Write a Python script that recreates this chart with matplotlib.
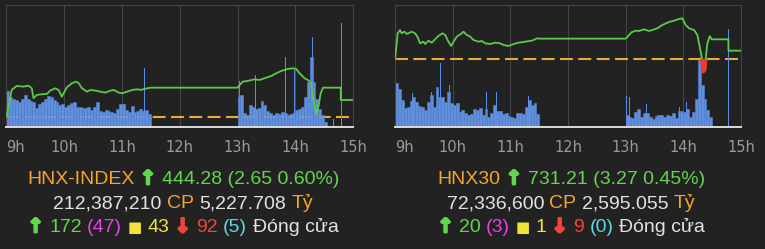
import matplotlib
matplotlib.use("Agg")
import matplotlib.pyplot as plt
import matplotlib.patheffects as pe
from matplotlib.patches import Rectangle
import numpy as np

BG = "#222222"
ORANGE = "#f5a431"
GREEN = "#62d64c"
WHITE = "#e2e2e2"
MAGENTA = "#e543e8"
YELLOW = "#f2e23a"
RED = "#f0453a"
CYAN = "#5ad8e6"

# minutes after 9:00
hnx_t = [0, 5.4, 10.6, 17.6, 22.8, 26.3, 28, 31.5, 36.7, 41.9, 45.4, 50.6, 54.1, 57.6, 59.3,
         62.8, 68, 72.5, 75, 78.4, 83.7, 87.1, 92.3, 97.6, 102.8, 108, 111.5, 116.7, 120.2,
         125.4, 130.6, 135.8, 139.3, 146.3, 150, 240, 245.4, 250.6, 257.6, 262.8, 268, 275,
         280.2, 285.4, 292.4, 297.6, 301, 304.5, 309.7, 313.2, 316.7, 318.4, 320.2, 321.9,
         324.4, 326.4, 328.9, 347.3, 347.3, 360]
hnx_p = [441.72, 445.81, 446.42, 446.32, 446.47, 446.07, 444.54, 445.05, 445.15, 445.20,
         445.71, 446.07, 445.81, 444.79, 445.30, 446.22, 446.84, 447.09, 446.84, 446.07,
         445.55, 445.81, 445.71, 445.55, 445.40, 445.71, 445.81, 445.40, 445.30, 445.55,
         445.81, 445.92, 445.81, 446.07, 446.16, 446.16, 447.09, 447.19, 447.44, 447.34,
         447.60, 447.95, 448.36, 448.72, 449.03, 449.13, 449.03, 448.36, 447.60, 447.34,
         446.84, 444.79, 443.26, 441.98, 443.51, 445.30, 446.16, 446.16, 444.28, 444.28]
hnx_ref = 441.63
hnx_vol_am = [36, 30, 28, 27, 25, 28, 32, 28, 26, 25, 19, 23, 25, 28, 31, 30, 27, 25, 22, 23,
              20, 22, 24, 25, 20, 20, 19, 19, 20, 17, 20, 25, 16, 15, 17, 16, 15, 14, 18, 23,
              23, 17, 15, 21, 15, 16, 18, 16, 17, 13]
hnx_vol_pm = [30, 32, 14, 12, 22, 20, 18, 19, 26, 22, 16, 14, 12, 14, 13, 15, 14, 12, 13, 14,
              17, 18, 20, 30, 45, 70, 45, 28, 18, 12, 5]
hnx_spike_t = [143.5, 241.9, 258.6, 289.9, 299.3, 318.4, 339.3, 348]
hnx_spike_v = [59, 46, 52, 70, 57, 90, 8, 104]

h30_t = [0, 2.6, 5, 6.7, 9.5, 12, 17.2, 20.7, 23.1, 25.9, 29.4, 31.1, 34.6, 38.1, 41.5, 45,
         49.2, 52, 55.4, 58.2, 60.7, 64.1, 69.4, 71.1, 74.6, 78.1, 81.5, 86.7, 90.2, 93.7,
         98.9, 104.1, 109.4, 112.8, 118.1, 123.3, 128.5, 135.4, 142.4, 147.6, 150, 240, 246,
         250.2, 253.7, 258.9, 264.1, 267.6, 272.8, 278.1, 285, 290.2, 295.4, 298.9, 302.4,
         305.9, 311.1, 314.6, 317, 319.1, 320.5, 322.2, 323.3, 325, 327.5, 329.5, 346.9,
         346.9, 360]
h30_p = [728.20, 738.01, 739.32, 738.01, 738.67, 737.75, 738.67, 738.01, 736.70, 734.09,
         734.74, 733.83, 735.13, 734.35, 735.66, 736.97, 738.01, 737.36, 734.74, 733.04,
         734.74, 736.70, 738.01, 738.67, 737.36, 736.70, 735.40, 734.74, 735.00, 734.09,
         733.83, 734.35, 734.09, 733.43, 733.04, 733.83, 734.35, 734.74, 735.13, 736.05,
         735.92, 735.92, 738.41, 739.06, 738.93, 739.58, 738.93, 739.32, 739.98, 741.28,
         742.46, 742.98, 743.64, 743.90, 741.28, 739.98, 739.32, 737.36, 732.78, 728.59,
         722.97, 723.62, 728.20, 734.09, 736.90, 735.66, 735.66, 731.21, 731.21]
h30_ref = 727.94
h30_vol_am = [44, 38, 27, 19, 20, 26, 30, 25, 21, 20, 17, 25, 32, 20, 40, 30, 30, 25, 35, 24,
              22, 24, 15, 17, 14, 12, 13, 18, 17, 19, 12, 18, 10, 14, 22, 16, 16, 13, 14, 11,
              10, 9, 14, 14, 13, 20, 27, 22, 24, 13]
h30_vol_pm = [12, 10, 9, 15, 18, 10, 14, 14, 10, 8, 11, 12, 12, 10, 12, 11, 14, 9, 16, 16,
              15, 18, 10, 15, 28, 67, 42, 28, 17, 10]
h30_spike_t = [18.2, 38, 47.5, 56.5, 94.7, 105.2, 138.9, 240.8, 244, 261.4, 296.2, 303.1, 347.3]
h30_spike_v = [34, 35, 64, 42, 35, 35, 31, 31, 30, 23, 20, 25, 98]

hour_labels = ["9h", "10h", "11h", "12h", "13h", "14h", "15h"]

hnx_text = [
    [("HNX-INDEX", ORANGE), ("↑", GREEN), ("444.28 (2.65 0.60%)", GREEN)],
    [("212,387,210", WHITE), ("CP", ORANGE), ("5,227.708", WHITE), ("Tỷ", ORANGE)],
    [("↑", GREEN), ("172", GREEN), ("(47)", MAGENTA), ("■", YELLOW), ("43", YELLOW),
     ("↓", RED), ("92", RED), ("(5)", CYAN), ("Đóng cửa", WHITE)],
]
h30_text = [
    [("HNX30", ORANGE), ("↑", GREEN), ("731.21 (3.27 0.45%)", GREEN)],
    [("72,336,600", WHITE), ("CP", ORANGE), ("2,595.055", WHITE), ("Tỷ", ORANGE)],
    [("↑", GREEN), ("20", GREEN), ("(3)", MAGENTA), ("■", YELLOW), ("1", YELLOW),
     ("↓", RED), ("9", RED), ("(0)", CYAN), ("Đóng cửa", WHITE)],
]

W, H = 765, 249
fig = plt.figure(figsize=(W / 100, H / 100), dpi=100, facecolor=BG)
renderer = fig.canvas.get_renderer()


def panel(x0, w, t, p, ref, plim, vol_am, vol_pm, sp_t, sp_v):
    ax = fig.add_axes([x0 / W, 122 / H, w / W, 122 / H])
    ax.set_facecolor(BG)
    ax.set_xlim(0, 360)
    ax.set_ylim(0, 122)
    for s in ["left", "right", "top"]:
        ax.spines[s].set_color("#454545")
        ax.spines[s].set_linewidth(0.8)
    ax.spines["bottom"].set_color("#dcdcdc")
    ax.spines["bottom"].set_linewidth(1.4)
    for m in range(60, 360, 60):
        ax.axvline(m, color="#444444", lw=0.8, zorder=0)
    ax.set_yticks([])
    ax.set_xticks(range(0, 361, 60))
    ax.set_xticklabels(hour_labels)
    ax.tick_params(axis="x", length=0, pad=9, labelsize=10.5, labelcolor="#9a9a9a")
    ax.get_xticklabels()[0].set_ha("left")

    axp = ax.twinx()
    axp.set_axis_off()
    axp.set_ylim(*plim)
    axp.set_xlim(0, 360)

    # reference line, drawn under the bars
    ax.plot([0, 360], [ref, ref], transform=axp.transData, color="#e6ad35",
            lw=1.5, ls=(0, (6.2, 2.6)), zorder=1)

    am_x = np.arange(len(vol_am)) * 3 + 1.5
    pm_x = 240 + np.arange(len(vol_pm)) * 3 + 1.5
    for xs, vs in [(am_x, vol_am), (pm_x, vol_pm)]:
        ax.bar(xs, vs, width=3, color="#6a9cec", alpha=0.9,
               edgecolor="#4f80d2", lw=0.5, zorder=2)
    ax.bar(sp_t, sp_v, width=1.0, color="#5a8ee4", lw=0, zorder=2)

    axp.plot(t, p, color="#5cc94a", lw=1.3, zorder=3)
    red, = axp.plot(t, p, color="#f0392d", lw=2.6, zorder=4)
    red.set_clip_path(Rectangle((0, plim[0]), 360, ref - plim[0], transform=axp.transData))


def text_block(xc, lines, size=14):
    baselines = [184.3, 208.3, 232.3]
    probe1 = fig.text(0, 0, "x x", fontsize=size, family="Liberation Sans")
    probe2 = fig.text(0, 0, "xx", fontsize=size, family="Liberation Sans")
    gap = probe1.get_window_extent(renderer).width - probe2.get_window_extent(renderer).width
    probe1.remove()
    probe2.remove()
    for segs, yb in zip(lines, baselines):
        items = []
        for s, c in segs:
            if s in ("↑", "↓"):
                kw = dict(family="DejaVu Sans", fontweight="bold", fontsize=size,
                          path_effects=[pe.withStroke(linewidth=1.6, foreground=c)])
            elif s == "■":
                kw = dict(family="DejaVu Sans", fontsize=size * 0.78)
            else:
                kw = dict(family="Liberation Sans", fontsize=size)
            tx = fig.text(0, 1 - yb / H, s, color=c, va="baseline", ha="left", **kw)
            items.append((tx, tx.get_window_extent(renderer).width))
        total = sum(wd for _, wd in items) + gap * (len(items) - 1)
        x = xc - total / 2
        for tx, wd in items:
            tx.set_x(x / W)
            x += wd + gap


panel(6.5, 346.5, hnx_t, hnx_p, hnx_ref, (440.14, 458.82),
      hnx_vol_am, hnx_vol_pm, hnx_spike_t, hnx_spike_v)
panel(395.2, 345.8, h30_t, h30_p, h30_ref, (701.25, 749.13),
      h30_vol_am, h30_vol_pm, h30_spike_t, h30_spike_v)
text_block(183, hnx_text)
text_block(571, h30_text)

fig.savefig("out.png", dpi=100, facecolor=BG)
